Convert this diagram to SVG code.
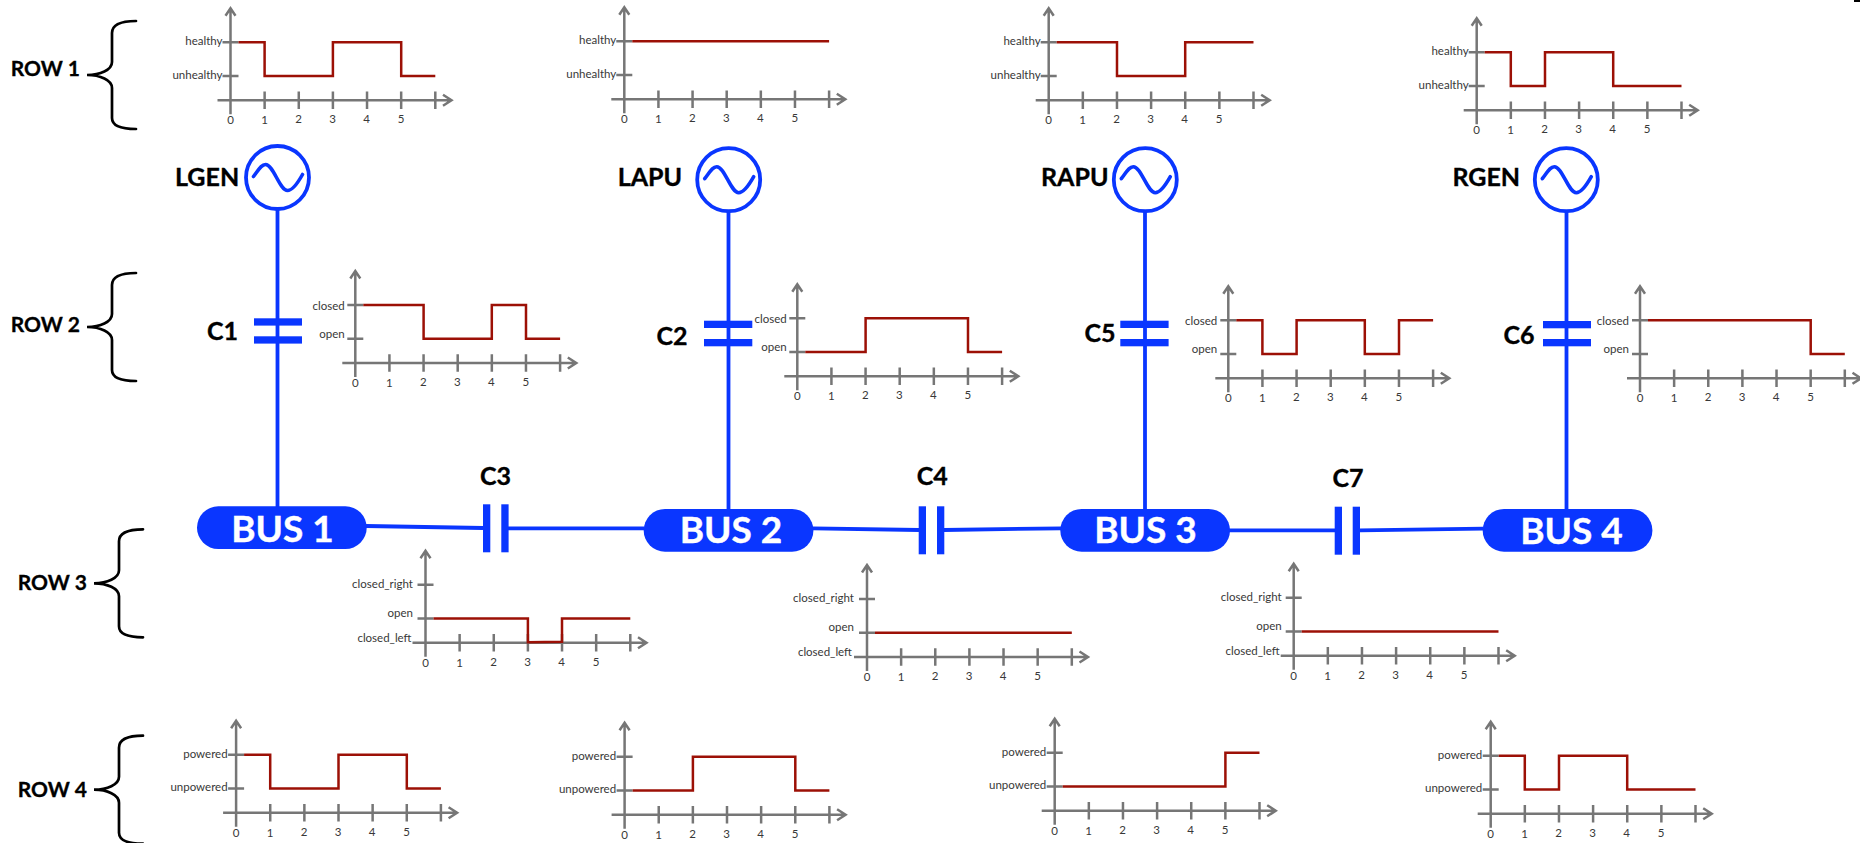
<svg xmlns="http://www.w3.org/2000/svg" xmlns:xlink="http://www.w3.org/1999/xlink" width="1860" height="843" viewBox="0 0 1860 843">
<style>
text{font-family:Lato,"Open Sans","Liberation Sans",sans-serif}
.lbl{font-size:11.5px;fill:#383838;text-anchor:end}
.num{font-size:11.5px;fill:#383838;text-anchor:middle}
.name{font-size:25px;font-weight:700;fill:#000;stroke:#000;stroke-width:.35}
.row{font-size:21px;font-weight:700;fill:#000;stroke:#000;stroke-width:.3}
.bust{font-size:37px;font-weight:700;fill:#fff;text-anchor:middle;stroke:#fff;stroke-width:.4}
.ax{fill:none;stroke:#767676;stroke-width:2.5}
.tr{fill:none;stroke:#9c1006;stroke-width:2.5}
.wire{fill:none;stroke:#0a36ff;stroke-width:3.8}
.gen{fill:#fff;stroke:#0a36ff;stroke-width:3.8}
.bus,.plate{fill:#0a36ff}
.brace{fill:none;stroke:#000;stroke-width:2.7;stroke-linecap:round}
</style>
<defs>
<g id="axes">
<path class="ax" d="M0,-92V14M-5,-84.5L0,-92L5,-84.5M-13,0H221M212.5,-5.5L221,0L212.5,5.5M34.13,-8.7V8.7M68.27,-8.7V8.7M102.4,-8.7V8.7M136.53,-8.7V8.7M170.67,-8.7V8.7M204.8,-8.7V8.7M-8,-58H8M-8,-24.3H8"/>
<text class="num" x="0" y="24">0</text><text class="num" x="34" y="24">1</text><text class="num" x="68" y="23">2</text><text class="num" x="102" y="23">3</text><text class="num" x="136" y="23">4</text><text class="num" x="170.5" y="23">5</text>
</g>
<path id="brace" class="brace" d="M136,21C122,21 112,24 112,33V62C112,70 100,75 87,75C100,75 112,80 112,88V118C112,126 122,129 136,129"/>
<path id="sine" fill="none" stroke="#0a36ff" stroke-width="3.6" stroke-linecap="round" d="M-24,-1C-18,-9 -16,-13 -12,-13C-4,-13 2,13 10,13C15,13 20,6 25,-3"/>
</defs>

<g id="connectors">
<path class="wire" d="M277.5,209V507"/>
<path class="wire" d="M728.5,211V510"/>
<path class="wire" d="M1145,211V510"/>
<path class="wire" d="M1566.5,211V510"/>
<path class="wire" d="M366,526L483,528"/>
<path class="wire" d="M508,528.3H644"/>
<path class="wire" d="M813,528.3L919,530"/>
<path class="wire" d="M944,530L1061,528.3"/>
<path class="wire" d="M1229,530.3H1335"/>
<path class="wire" d="M1360,530.3L1483,528.7"/>
</g>

<g id="row1-label"><text class="row" x="10.7" y="76">ROW 1</text><use href="#brace"/></g>
<g id="row2-label"><text class="row" x="10.7" y="332">ROW 2</text><use href="#brace" y="252"/></g>
<g id="row3-label"><text class="row" x="17.7" y="590">ROW 3</text><use href="#brace" x="7" y="508.3"/></g>
<g id="row4-label"><text class="row" x="17.7" y="797">ROW 4</text><use href="#brace" x="7" y="714.7"/></g>

<g id="LGEN"><circle class="gen" cx="277.5" cy="177.5" r="31.5"/><use href="#sine" x="277.5" y="177.5"/><text class="name" x="175" y="185.5">LGEN</text></g>
<g id="LAPU"><circle class="gen" cx="728.7" cy="179.7" r="31.5"/><use href="#sine" x="728.7" y="179.7"/><text class="name" x="617.7" y="185.5">LAPU</text></g>
<g id="RAPU"><circle class="gen" cx="1145.3" cy="179.7" r="31.5"/><use href="#sine" x="1145.3" y="179.7"/><text class="name" x="1041" y="185.5">RAPU</text></g>
<g id="RGEN"><circle class="gen" cx="1566.3" cy="179.7" r="31.5"/><use href="#sine" x="1566.3" y="179.7"/><text class="name" x="1452.5" y="186">RGEN</text></g>

<g id="C1"><rect class="plate" x="254" y="318.3" width="48" height="7.3"/><rect class="plate" x="254" y="336.3" width="48" height="7.3"/><text class="name" x="207" y="339.5">C1</text></g>
<g id="C2"><rect class="plate" x="704" y="320.7" width="48.3" height="7.3"/><rect class="plate" x="704" y="339" width="48.3" height="7.3"/><text class="name" x="656.5" y="345">C2</text></g>
<g id="C5"><rect class="plate" x="1120.3" y="320.7" width="48.3" height="7.3"/><rect class="plate" x="1120.3" y="339" width="48.3" height="7.3"/><text class="name" x="1084.5" y="342">C5</text></g>
<g id="C6"><rect class="plate" x="1543" y="321" width="48" height="7.3"/><rect class="plate" x="1543" y="339" width="48" height="7.3"/><text class="name" x="1503.5" y="344">C6</text></g>
<g id="C3"><rect class="plate" x="483" y="504.3" width="7.3" height="48"/><rect class="plate" x="501.3" y="504.3" width="7.3" height="48"/><text class="name" x="480" y="485">C3</text></g>
<g id="C4"><rect class="plate" x="918.7" y="506.3" width="7.3" height="48"/><rect class="plate" x="937" y="506.3" width="7.3" height="48"/><text class="name" x="916.7" y="485">C4</text></g>
<g id="C7"><rect class="plate" x="1334.7" y="506.7" width="7.3" height="48"/><rect class="plate" x="1352.7" y="506.7" width="7.3" height="48"/><text class="name" x="1332.5" y="487.3">C7</text></g>

<g id="BUS1"><rect class="bus" x="197" y="506.3" width="169.7" height="42.7" rx="21.3"/><text class="bust" x="282.5" y="542">BUS 1</text></g>
<g id="BUS2"><rect class="bus" x="643.7" y="509" width="169.7" height="42.7" rx="21.3"/><text class="bust" x="731" y="543">BUS 2</text></g>
<g id="BUS3"><rect class="bus" x="1060.3" y="509" width="169.7" height="42.7" rx="21.3"/><text class="bust" x="1145.5" y="543">BUS 3</text></g>
<g id="BUS4"><rect class="bus" x="1482.7" y="509" width="169.7" height="42.7" rx="21.3"/><text class="bust" x="1571.5" y="544.3">BUS 4</text></g>

<g id="chart-lgen" transform="translate(230.5,100.3)"><use href="#axes"/><path class="tr" d="M8,-58H34.1V-24.3H102.4V-58H170.7V-24.3H204.8"/><text class="lbl" x="-8" y="-55">healthy</text><text class="lbl" x="-8" y="-21.7">unhealthy</text></g>
<g id="chart-lapu" transform="translate(624.3,99.3)"><use href="#axes"/><path class="tr" d="M8,-58H204.8"/><text class="lbl" x="-8" y="-55">healthy</text><text class="lbl" x="-8" y="-21.7">unhealthy</text></g>
<g id="chart-rapu" transform="translate(1048.7,100.3)"><use href="#axes"/><path class="tr" d="M8,-58H68.3V-24.3H136.5V-58H204.8"/><text class="lbl" x="-8" y="-55">healthy</text><text class="lbl" x="-8" y="-21.7">unhealthy</text></g>
<g id="chart-rgen" transform="translate(1476.7,110.3)"><use href="#axes"/><path class="tr" d="M8,-58H34.1V-24.3H68.3V-58H136.5V-24.3H204.8"/><text class="lbl" x="-8" y="-55">healthy</text><text class="lbl" x="-8" y="-21.7">unhealthy</text></g>

<g id="chart-c1" transform="translate(355.3,363)"><use href="#axes"/><path class="tr" d="M8,-58H68.3V-24.3H136.5V-58H170.7V-24.3H204.8"/><text class="lbl" x="-10.5" y="-53">closed</text><text class="lbl" x="-10.5" y="-25">open</text></g>
<g id="chart-c2" transform="translate(797.3,376.3)"><use href="#axes"/><path class="tr" d="M8,-24.3H68.3V-58H170.7V-24.3H204.8"/><text class="lbl" x="-10.5" y="-53">closed</text><text class="lbl" x="-10.5" y="-25">open</text></g>
<g id="chart-c5" transform="translate(1228.3,378.3)"><use href="#axes"/><path class="tr" d="M8,-58H34.1V-24.3H68.3V-58H136.5V-24.3H170.7V-58H204.8"/><text class="lbl" x="-11" y="-53">closed</text><text class="lbl" x="-11" y="-25">open</text></g>
<g id="chart-c6" transform="translate(1640,378.3)"><use href="#axes"/><path class="tr" d="M8,-58H170.7V-24.3H204.8"/><text class="lbl" x="-11" y="-53">closed</text><text class="lbl" x="-11" y="-25">open</text></g>

<g id="chart-c3" transform="translate(425.5,642.7)"><use href="#axes"/><path class="tr" d="M8,-24.3H102.4V-0.5L136.5,-1V-24.3H204.8"/><text class="lbl" x="-12.5" y="-55">closed_right</text><text class="lbl" x="-12.5" y="-26">open</text><text class="lbl" x="-14" y="-1">closed_left</text></g>
<g id="chart-c4" transform="translate(867,657)"><use href="#axes"/><path class="tr" d="M8,-24.3H204.8"/><text class="lbl" x="-13" y="-55">closed_right</text><text class="lbl" x="-13" y="-26">open</text><text class="lbl" x="-15" y="-1">closed_left</text></g>
<g id="chart-c7" transform="translate(1293.7,655.7)"><use href="#axes"/><path class="tr" d="M8,-24.3H204.8"/><text class="lbl" x="-12" y="-55">closed_right</text><text class="lbl" x="-12" y="-26">open</text><text class="lbl" x="-14" y="-1">closed_left</text></g>

<g id="chart-bus1" transform="translate(236.1,812.7)"><use href="#axes"/><path class="tr" d="M8,-58H34.1V-24.3H102.4V-58H170.7V-24.3H204.8"/><text class="lbl" x="-8.5" y="-55">powered</text><text class="lbl" x="-8.5" y="-22">unpowered</text></g>
<g id="chart-bus2" transform="translate(624.6,814.7)"><use href="#axes"/><path class="tr" d="M8,-24.3H68.3V-58H170.7V-24.3H204.8"/><text class="lbl" x="-8.5" y="-55">powered</text><text class="lbl" x="-8.5" y="-22">unpowered</text></g>
<g id="chart-bus3" transform="translate(1054.7,810.7)"><use href="#axes"/><path class="tr" d="M8,-24.3H170.7V-58H204.8"/><text class="lbl" x="-8.5" y="-55">powered</text><text class="lbl" x="-8.5" y="-22">unpowered</text></g>
<g id="chart-bus4" transform="translate(1490.7,813.7)"><use href="#axes"/><path class="tr" d="M8,-58H34.1V-24.3H68.3V-58H136.5V-24.3H204.8"/><text class="lbl" x="-8.5" y="-55">powered</text><text class="lbl" x="-8.5" y="-22">unpowered</text></g>
<rect x="1854" y="0" width="6" height="2" fill="#000"/>
</svg>
